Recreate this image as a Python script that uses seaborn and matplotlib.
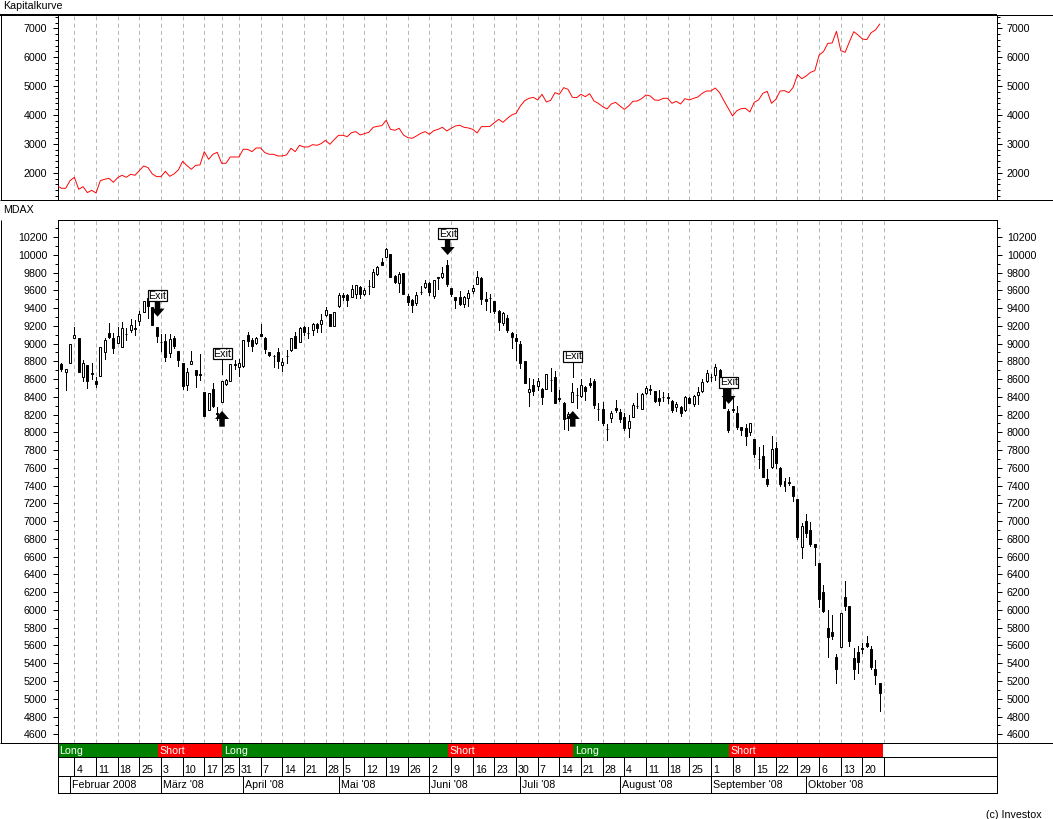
import numpy as np
import matplotlib.pyplot as plt
from matplotlib.lines import Line2D
from matplotlib.ticker import MultipleLocator
import seaborn as sns

# --- data, one entry per trading day, first day is index -4 ---
first_bar = -4

opens = [8777, 8766, 8683, 8785, 9059, 9066, 8620, 8755, 8665, 8578, 8635, 8908, 9115, 9059, 9010, 8957,
         9107, 9152, 9171, 9258, 9359, 9509, 9415, 9190, 9021, 9029, 8890, 9059, 8916, 8777, 8533, 8766,
         8698, 8653, 8454, 8252, 8488, 8214, 8345, 8545, 8582, 8774, 8732, 8751, 9096, 9040, 9010, 9107,
         9059, 8901, 8860, 8901, 8762, 8864, 8924, 9089, 9021, 9183, 9123, 9157, 9217, 9224, 9318, 9333,
         9194, 9423, 9547, 9547, 9521, 9554, 9637, 9562, 9648, 9641, 9783, 9915, 9971, 10005, 9757, 9678,
         9791, 9536, 9491, 9453, 9584, 9633, 9678, 9539, 9746, 9753, 9885, 9622, 9521, 9524, 9449, 9509,
         9596, 9667, 9735, 9502, 9517, 9476, 9367, 9235, 9284, 9123, 9059, 8992, 8804, 8459, 8530, 8523,
         8489, 8493, 8590, 8624, 8384, 8335, 8177, 8346, 8421, 8406, 8515, 8556, 8579, 8264, 8264, 8038,
         8166, 8275, 8230, 8173, 8046, 8177, 8301, 8267, 8440, 8485, 8462, 8387, 8402, 8395, 8354, 8290,
         8282, 8249, 8387, 8316, 8425, 8462, 8575, 8624, 8650, 8703, 8508, 8241, 8260, 8215, 8057, 8046,
         8008, 7926, 7701, 7731, 7472, 7614, 7821, 7600, 7449, 7438, 7397, 7250, 6714, 7000, 6900, 6744,
         6525, 6199, 5793, 5748, 5467, 5587, 6142, 6045, 5459, 5523, 5568, 5624, 5557, 5335, 5174]

highs = [8790, 8777, 8713, 8995, 9190, 9066, 8815, 8755, 8777, 8627, 8961, 9059, 9235, 9115, 9190, 9246,
         9171, 9276, 9265, 9370, 9483, 9509, 9415, 9190, 9107, 9104, 9104, 9089, 8916, 8777, 8721, 8916,
         8698, 8882, 8454, 8447, 8552, 8282, 8578, 8597, 8766, 8815, 8826, 9040, 9130, 9059, 9070, 9216,
         9077, 8905, 8871, 8954, 8833, 8924, 9059, 9134, 9190, 9202, 9183, 9235, 9235, 9329, 9412, 9333,
         9352, 9566, 9566, 9558, 9656, 9656, 9648, 9622, 9716, 9840, 9873, 9960, 10072, 10005, 9772, 9810,
         9791, 9554, 9502, 9584, 9652, 9716, 9697, 9716, 9753, 9866, 9941, 9622, 9528, 9592, 9539, 9603,
         9659, 9817, 9753, 9577, 9554, 9483, 9374, 9352, 9322, 9126, 9104, 9029, 8804, 8609, 8601, 8616,
         8496, 8654, 8721, 8691, 8477, 8346, 8234, 8552, 8496, 8598, 8523, 8613, 8601, 8327, 8339, 8091,
         8241, 8361, 8267, 8215, 8196, 8335, 8444, 8440, 8523, 8534, 8470, 8477, 8459, 8447, 8365, 8346,
         8297, 8406, 8402, 8421, 8507, 8601, 8703, 8658, 8770, 8710, 8520, 8260, 8395, 8297, 8065, 8091,
         8102, 7926, 7836, 7858, 7584, 7960, 7892, 7607, 7487, 7498, 7397, 7250, 6978, 7082, 6990, 6744,
         6525, 6281, 6000, 5943, 5500, 5962, 6326, 6045, 5572, 5594, 5624, 5707, 5594, 5437, 5174]

lows = [8545, 8695, 8477, 8785, 9059, 8680, 8582, 8503, 8597, 8507, 8630, 8830, 9059, 8897, 9010, 8957,
        9040, 9126, 9096, 9209, 9359, 9284, 9209, 9021, 8916, 8807, 8852, 8946, 8747, 8484, 8477, 8766,
        8514, 8589, 8188, 8252, 8289, 8139, 8345, 8533, 8582, 8717, 8635, 8740, 8972, 8920, 8995, 9089,
        8890, 8860, 8740, 8721, 8695, 8785, 8920, 8946, 9021, 9096, 9066, 9096, 9126, 9134, 9310, 9198,
        9194, 9415, 9491, 9427, 9521, 9509, 9509, 9547, 9558, 9641, 9772, 9885, 9971, 9746, 9678, 9584,
        9554, 9434, 9359, 9434, 9554, 9625, 9547, 9509, 9611, 9735, 9648, 9539, 9404, 9434, 9415, 9423,
        9566, 9667, 9446, 9374, 9359, 9340, 9153, 9209, 9134, 8947, 8815, 8729, 8560, 8301, 8421, 8477,
        8320, 8493, 8466, 8335, 8357, 8038, 8027, 8340, 8271, 8400, 8365, 8508, 8271, 8140, 8083, 7915,
        8121, 8226, 8121, 8027, 7952, 8170, 8271, 8260, 8432, 8432, 8342, 8309, 8357, 8327, 8233, 8241,
        8188, 8245, 8330, 8301, 8320, 8460, 8570, 8575, 8590, 8553, 8279, 8008, 8234, 8038, 7971, 7858,
        7971, 7720, 7603, 7494, 7397, 7600, 7600, 7400, 7344, 7412, 7232, 6800, 6590, 6826, 6720, 6510,
        6033, 5981, 5474, 5673, 5182, 5587, 6000, 5598, 5223, 5294, 5519, 5587, 5339, 5170, 4866]

closes = [8552, 8713, 8713, 8995, 9096, 8680, 8777, 8582, 8660, 8540, 8961, 9040, 9070, 8946, 9085, 9171,
          9105, 9209, 9168, 9333, 9483, 9423, 9209, 9085, 9018, 8852, 9051, 8972, 8815, 8526, 8676, 8803,
          8646, 8650, 8188, 8439, 8297, 8210, 8578, 8586, 8766, 8758, 8777, 9040, 9032, 8972, 9059, 9089,
          8935, 8871, 8858, 8807, 8788, 8860, 9059, 8954, 9172, 9134, 9120, 9217, 9172, 9262, 9378, 9198,
          9352, 9543, 9528, 9491, 9618, 9656, 9554, 9603, 9645, 9802, 9858, 9888, 10065, 9746, 9697, 9780,
          9554, 9472, 9431, 9547, 9580, 9678, 9584, 9716, 9743, 9798, 9667, 9558, 9491, 9449, 9524, 9566,
          9622, 9746, 9506, 9479, 9512, 9367, 9247, 9340, 9153, 9070, 9033, 8785, 8560, 8489, 8470, 8575,
          8402, 8654, 8587, 8335, 8380, 8147, 8207, 8451, 8418, 8530, 8470, 8530, 8309, 8261, 8102, 8035,
          8215, 8252, 8151, 8053, 8128, 8309, 8298, 8429, 8504, 8482, 8350, 8357, 8399, 8392, 8252, 8316,
          8222, 8395, 8335, 8406, 8451, 8568, 8673, 8621, 8740, 8553, 8279, 8027, 8257, 8057, 8031, 7960,
          8102, 7757, 7698, 7502, 7419, 7810, 7660, 7419, 7400, 7435, 7288, 6826, 6942, 6870, 6742, 6714,
          6127, 5988, 5699, 5711, 5332, 5962, 6045, 5654, 5339, 5418, 5566, 5594, 5358, 5272, 5069]

equity = [1557, 1465, 1465, 1730, 1845, 1430, 1522, 1315, 1395, 1303, 1730, 1776, 1810, 1672, 1834, 1914, 1845,
          1949, 1914, 2076, 2237, 2180, 1960, 1868, 1868, 2053, 1880, 1960, 2099, 2398, 2249, 2122, 2260, 2272,
          2733, 2468, 2641, 2710, 2329, 2329, 2548, 2548, 2548, 2814, 2814, 2733, 2860, 2860, 2698, 2641, 2641,
          2583, 2583, 2618, 2848, 2733, 2952, 2894, 2894, 2975, 2952, 3010, 3125, 2987, 3148, 3298, 3298, 3252,
          3390, 3425, 3309, 3355, 3402, 3575, 3609, 3632, 3817, 3505, 3471, 3540, 3309, 3217, 3194, 3275, 3367,
          3425, 3332, 3459, 3505, 3575, 3448, 3540, 3621, 3644, 3575, 3551, 3505, 3379, 3598, 3598, 3609, 3736,
          3851, 3748, 3886, 4001, 4059, 4312, 4497, 4578, 4612, 4520, 4716, 4451, 4508, 4774, 4716, 4947, 4889,
          4612, 4601, 4716, 4635, 4739, 4485, 4405, 4289, 4209, 4382, 4439, 4312, 4197, 4312, 4474, 4485, 4566,
          4693, 4658, 4520, 4508, 4578, 4578, 4405, 4474, 4382, 4566, 4520, 4578, 4624, 4751, 4831, 4831, 4935,
          4774, 4497, 4232, 3967, 4151, 4220, 4232, 4105, 4439, 4520, 4751, 4820, 4405, 4543, 4831, 4843, 4774,
          4958, 5396, 5258, 5350, 5477, 5535, 6077, 6192, 6480, 6492, 6895, 6226, 6169, 6538, 6884, 6768, 6630,
          6607, 6849, 6941, 7149]

# week starts as bar indices, the last one has no label
week_bars = [0, 5, 10, 15, 20, 25, 30, 34, 38, 43, 48, 53, 58, 62, 67, 72, 77, 82, 87, 92, 97, 102, 107, 112,
             117, 122, 127, 132, 137, 142, 147, 152, 157, 162, 167, 172, 177, 182, 187]
week_labels = ['4', '11', '18', '25', '3', '10', '17', '25', '31', '7', '14', '21', '28', '5', '12', '19', '26',
               '2', '9', '16', '23', '30', '7', '14', '21', '28', '4', '11', '18', '25', '1', '8', '15', '22',
               '29', '6', '13', '20']
month_bars = [-1, 20, 39, 61, 82, 103, 126, 147, 169]
month_labels = ['Februar 2008', "März '08", "April '08", "Mai '08", "Juni '08", "Juli '08", "August '08",
                "September '08", "Oktober '08"]

# trading system regimes
regime_edges = [-3.9, 19.2, 34.2, 86.2, 115.1, 151.1, 186.7]
regime_names = ['Long', 'Short', 'Long', 'Short', 'Long', 'Short']

# Exit labels and arrows in chart units
exit_bars = [19.2, 34.2, 86.2, 115.1, 151.1]
exit_levels = [9539, 8886, 10237, 8857, 8564]
down_bars = [19.2, 86.2, 151.1]
down_tops = [9483, 10185, 8507]
down_tips = [9303, 9997, 8320]
up_bars = [34.1, 115.1]
up_bases = [8064, 8064]
up_tips = [8241, 8241]
stem_bars = [34.2, 115.1]
stem_tops = [8835, 8804]
stem_bottoms = [8654, 8627]

# --- styling ---
W, H = 1053, 819
LEFT, RIGHT = 57.5, 996.5
PX = 72 / 100  # one pixel in points
FONT = 7.7
XLIM = (-3.9, 212.96)

sns.set_theme(style='white')
plt.rcParams['font.family'] = ['Liberation Sans', 'DejaVu Sans']
plt.rcParams['font.size'] = FONT


def make_axes(top, bottom):
    return fig.add_axes([LEFT / W, 1 - bottom / H, (RIGHT - LEFT) / W, (bottom - top) / H])


def chrome_line(x0, y0, x1, y1, width=1):
    fig.add_artist(Line2D([x0 / W, x1 / W], [1 - y0 / H, 1 - y1 / H], color='black', lw=width * PX,
                          solid_capstyle='butt'))


def style_price_axis(ax, ylim, major, minor):
    ax.set_xlim(*XLIM)
    ax.set_ylim(*ylim)
    ax.set_xticks([])
    ax.yaxis.set_major_locator(MultipleLocator(major))
    ax.yaxis.set_minor_locator(MultipleLocator(minor))
    ax.tick_params(axis='y', which='major', left=True, right=True, labelleft=True, labelright=True,
                   length=4 * PX * 1.2, width=PX, pad=4, labelsize=FONT, colors='black')
    ax.tick_params(axis='y', which='minor', left=True, right=True, length=3 * PX, width=PX, color='black')
    for s in ax.spines.values():
        s.set_linewidth(PX)
        s.set_color('black')
    ax.vlines(week_bars, ylim[0], ylim[1], colors='#b8b8b8', linewidth=PX, linestyles=(0, (4, 3.2)), zorder=1)


fig = plt.figure(figsize=(W / 100, H / 100), dpi=100)

# --- equity curve ---
bars = np.arange(len(opens)) + first_bar
ax_eq = make_axes(14.7, 200.3)
style_price_axis(ax_eq, (1049, 7471), 1000, 200)
sns.lineplot(x=bars, y=equity, color='#ff0000', linewidth=0.95 * PX, ax=ax_eq, estimator=None, zorder=3)
ax_eq.set_xlabel('')
ax_eq.set_ylabel('')

# --- candles ---
ax_px = make_axes(220.3, 743)
style_price_axis(ax_px, (4502, 10388), 200, 100)
ax_px.vlines(bars, lows, highs, colors='black', linewidth=PX, zorder=3, antialiased=False)
o = np.array(opens)
c = np.array(closes)
is_up = c > o
body_bottom = np.minimum(o, c)
body_height = np.abs(c - o)
ax_px.bar(bars[~is_up], body_height[~is_up], bottom=body_bottom[~is_up], width=0.46, color='black',
          edgecolor='black', linewidth=PX, zorder=4)
ax_px.bar(bars[is_up], body_height[is_up], bottom=body_bottom[is_up], width=0.46, color='white',
          edgecolor='black', linewidth=PX, zorder=4)

# --- trade arrows and Exit labels ---
arrow = dict(width=5.5 * PX, headwidth=14 * PX, headlength=8 * PX, color='black', shrink=0, linewidth=0)
for x, top, tip in zip(down_bars, down_tops, down_tips):
    ax_px.annotate('', xy=(x, tip), xytext=(x, top), arrowprops=arrow, zorder=5)
for x, base, tip in zip(up_bars, up_bases, up_tips):
    ax_px.annotate('', xy=(x, tip), xytext=(x, base), arrowprops=arrow, zorder=5)
ax_px.vlines(stem_bars, stem_bottoms, stem_tops, colors='black', linewidth=PX, zorder=5, antialiased=False)
for x, level in zip(exit_bars, exit_levels):
    ax_px.text(x, level, 'Exit', ha='center', va='center', fontsize=FONT, color='black', zorder=6,
               bbox=dict(boxstyle='square,pad=0.03', facecolor='white', edgecolor='black', linewidth=1.2 * PX))

# --- Long / Short strip ---
ax_reg = make_axes(743, 756.5)
for i, name in enumerate(regime_names):
    start, stop = regime_edges[i], regime_edges[i + 1]
    ax_reg.barh(0.5, stop - start, left=start, height=1, color='#008000' if name == 'Long' else '#ff0000',
                linewidth=0)
    ax_reg.annotate(name, (start, 0.5), xytext=(2 * PX, 0), textcoords='offset points', color='white',
                    fontsize=FONT, va='center_baseline', ha='left')
ax_reg.set_xlim(*XLIM)
ax_reg.set_ylim(0, 1)

# --- week row ---
ax_week = make_axes(756.5, 775.5)
ax_week.vlines(week_bars, 0, 0.93, colors='black', linewidth=PX, antialiased=False)
for x, label in zip(week_bars, week_labels):
    ax_week.annotate(label, (x, 0.35), xytext=(2 * PX, 0), textcoords='offset points', fontsize=FONT,
                     color='black', va='center_baseline', ha='left')
ax_week.set_xlim(*XLIM)
ax_week.set_ylim(0, 1)

# --- month row ---
ax_month = make_axes(775.5, 793)
ax_month.vlines(month_bars, 0, 1, colors='black', linewidth=PX, antialiased=False)
for x, label in zip(month_bars, month_labels):
    ax_month.annotate(label, (x, 0.5), xytext=(2 * PX, 0), textcoords='offset points', fontsize=FONT,
                      color='black', va='center_baseline', ha='left')
ax_month.set_xlim(*XLIM)
ax_month.set_ylim(0, 1)

for ax in (ax_reg, ax_week, ax_month):
    ax.set_xticks([])
    ax.set_yticks([])
    for s in ax.spines.values():
        s.set_linewidth(PX)
        s.set_color('black')

# --- outer frame lines ---
chrome_line(0, 14.7, RIGHT, 14.7, 2)
chrome_line(RIGHT, 14.7, W, 14.7, 1)
chrome_line(0, 200.3, W, 200.3, 1)
chrome_line(0.5, 14.7, 0.5, 200.3, 1)
chrome_line(0.5, 220.3, 0.5, 743, 1)
chrome_line(0, 743, W, 743, 1)

fig.text(3 / W, 1 - 6 / H, 'Kapitalkurve', fontsize=FONT, color='black', va='center', ha='left')
fig.text(3 / W, 1 - 210 / H, 'MDAX', fontsize=FONT, color='black', va='center', ha='left')
fig.text(1042 / W, 1 - 815 / H, '(c) Investox', fontsize=FONT, color='black', va='center', ha='right')

fig.savefig('out.png', dpi=100)
